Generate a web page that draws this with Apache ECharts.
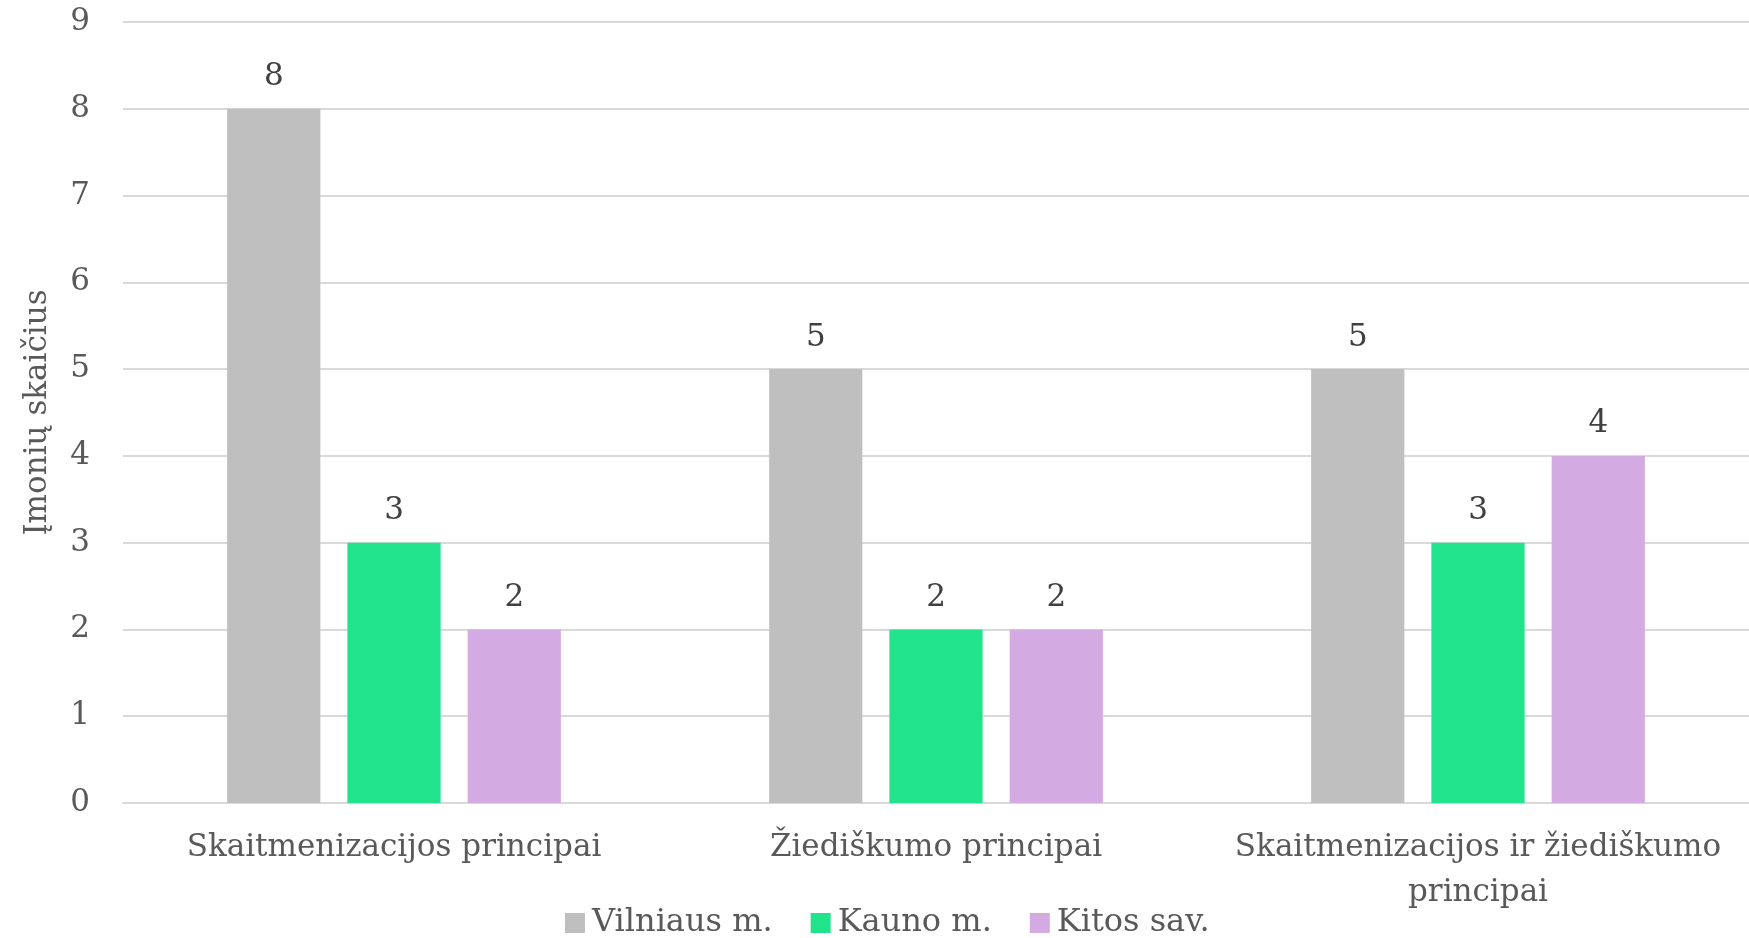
<!DOCTYPE html>
<html><head><meta charset="utf-8">
<script src="https://cdn.jsdelivr.net/npm/echarts@6/dist/echarts.min.js"></script>
<style>html,body{margin:0;padding:0;background:#fff}#c{width:1749px;height:938px}</style>
</head><body><div id="c"></div>
<script>
const categories = ['Skaitmenizacijos principai', 'Žiediškumo principai', 'Skaitmenizacijos ir žiediškumo\nprincipai'];
const seriesNames = ['Vilniaus m.', 'Kauno m.', 'Kitos sav.'];
const vilnius = [8, 5, 5];
const kaunas = [3, 2, 3];
const kitos = [2, 2, 4];
const colors = ['#bfbfbf', '#20e38c', '#d4aae3'];
const FONT = 'DejaVu Serif';
const TXT = '#595959';
const FS = 31;
const chart = echarts.init(document.getElementById('c'));
const values = [vilnius, kaunas, kitos];
chart.setOption({
  animation: false,
  textStyle: {fontFamily: FONT},
  grid: {left: 123, right: 0, top: 22, bottom: 135},
  legend: {
    data: seriesNames, bottom: -6, left: 560, icon: 'rect', itemWidth: 20, itemHeight: 20, itemGap: 38,
    textStyle: {fontFamily: FONT, fontSize: 32, color: TXT, padding: [0,0,0,2]}
  },
  xAxis: {
    type: 'category', data: categories,
    axisLine: {lineStyle: {color: '#d9d9d9', width: 2}}, axisTick: {show: false},
    axisLabel: {fontFamily: FONT, fontSize: FS, color: TXT, lineHeight: 45, margin: 22, interval: 0}
  },
  yAxis: {
    type: 'value', min: 0, max: 9, interval: 1,
    name: 'Įmonių skaičius', nameLocation: 'middle', nameGap: 70, nameRotate: 90,
    nameTextStyle: {fontFamily: FONT, fontSize: FS, color: TXT},
    axisLine: {show: false}, axisTick: {show: false},
    axisLabel: {fontFamily: FONT, fontSize: FS, color: TXT, margin: 33},
    splitLine: {lineStyle: {color: '#d9d9d9', width: 2}}
  },
  series: seriesNames.map((n, i) => ({
    name: n, type: 'bar', data: values[i], barWidth: '17.2%', barGap: '29%',
    itemStyle: {color: colors[i]},
    label: {show: true, position: 'top', distance: 16, fontFamily: FONT, fontSize: FS, color: '#404040'}
  }))
});
</script></body></html>
